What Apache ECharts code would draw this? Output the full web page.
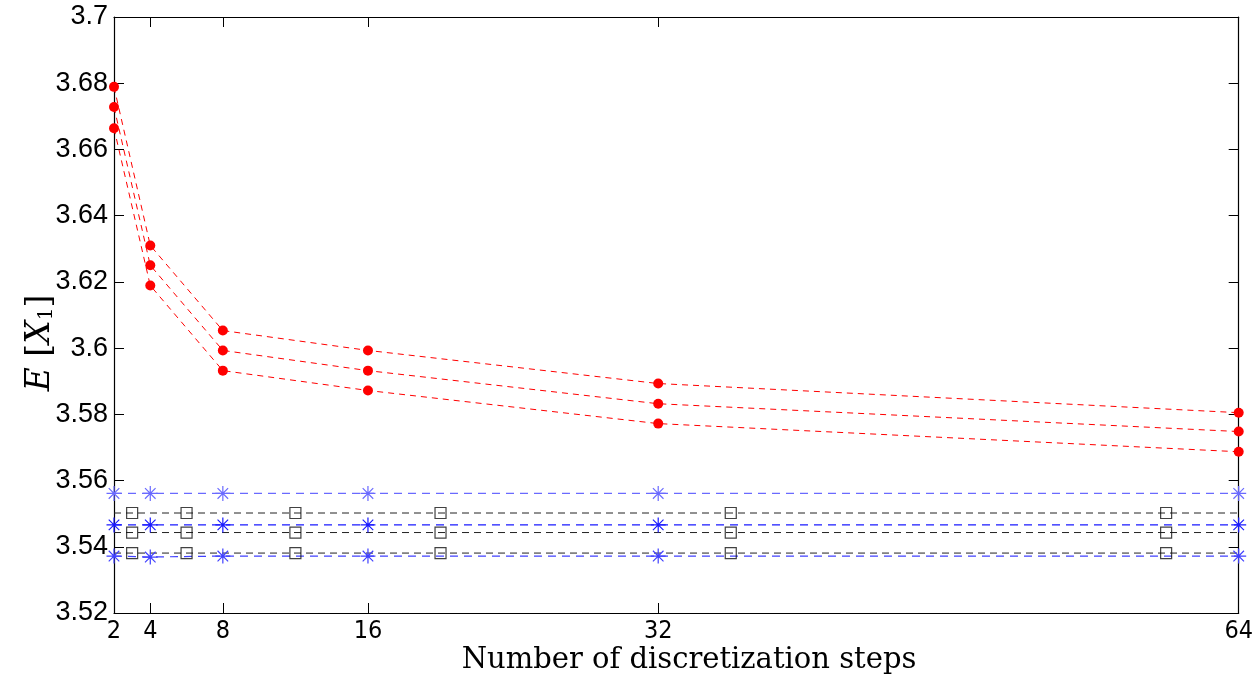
<!DOCTYPE html>
<html>
<head>
<meta charset="utf-8">
<script src="https://cdn.jsdelivr.net/npm/echarts@6/dist/echarts.min.js"></script>
<style>html,body{margin:0;padding:0;background:#fff;}#c{width:1256px;height:681px;}</style>
</head>
<body>
<div id="c"></div>
<script>
// ---- data ----
const xSteps = [2, 4, 8, 16, 32, 64];
const xTickLabels = [2, 4, 8, 16, 32, 64];
const yTicks = [3.52, 3.54, 3.56, 3.58, 3.6, 3.62, 3.64, 3.66, 3.68, 3.7];

const redUpper = [3.6789, 3.6310, 3.6053, 3.5993, 3.5893, 3.5805];
const redMid   = [3.6728, 3.6250, 3.5993, 3.5932, 3.5832, 3.5748];
const redLower = [3.6664, 3.6189, 3.5932, 3.5872, 3.5772, 3.5687];

const blueUpper = [3.5561, 3.5561, 3.5561, 3.5561, 3.5561, 3.5561];
const blueMid   = [3.5466, 3.5466, 3.5466, 3.5466, 3.5466, 3.5466];
const blueLower = [3.5372, 3.5369, 3.5372, 3.5372, 3.5372, 3.5372];

const squareX = [3, 6, 12, 20, 36, 60];
const blackLineX = [2, 64];
const blackUpper = 3.5502;
const blackMid = 3.5443;
const blackLower = 3.5381;

// ---- chart ----
const pair = (xs, ys) => xs.map((x, i) => [x, ys[i]]);
const asterisk = 'path://M9.2 0H10.8V20H9.2Z M0 9.2H20V10.8H0Z M2.4 3.5L3.5 2.4L17.6 16.5L16.5 17.6Z M16.5 2.4L17.6 3.5L3.5 17.6L2.4 16.5Z';

function redSeries(vals) {
  return {
    type: 'line', data: pair(xSteps, vals), symbol: 'circle', symbolSize: 10,
    itemStyle: { color: '#ff0000' },
    lineStyle: { color: '#ff0000', width: 1, type: [6, 5] },
    animation: false, z: 5
  };
}
function blueSeries(vals, col) {
  return {
    type: 'line', data: pair(xSteps, vals), symbol: asterisk, symbolSize: 15,
    itemStyle: { color: col },
    lineStyle: { color: col, width: 1.2, type: [8, 6] },
    animation: false, z: 4
  };
}
function blackLine(v) {
  return {
    type: 'line', data: blackLineX.map(x => [x, v]), showSymbol: false, symbol: 'none',
    lineStyle: { color: '#222', width: 1, type: [7, 5] }, animation: false, z: 3
  };
}
function blackSquares(v) {
  return {
    type: 'scatter', data: squareX.map(x => [x, v]), symbol: 'rect', symbolSize: 11,
    itemStyle: { color: 'rgba(0,0,0,0)', borderColor: '#111', borderWidth: 1.2 },
    animation: false, z: 6
  };
}

const chart = echarts.init(document.getElementById('c'), null, { renderer: 'canvas' });
const axisLineStyle = { lineStyle: { color: '#000', width: 1.2 } };
chart.setOption({
  backgroundColor: '#fff',
  animation: false,
  grid: { left: 114, right: 16, top: 17, bottom: 68 },
  xAxis: [
    {
      type: 'value', min: 2, max: 64, position: 'bottom',
      axisLine: { show: true, onZero: false, ...axisLineStyle },
      axisTick: { show: true, inside: true, length: 10, customValues: xTickLabels, lineStyle: { color: '#000' } },
      axisLabel: { customValues: xTickLabels, color: '#000', fontSize: 25, fontFamily: 'DejaVu Sans Condensed, Liberation Sans Narrow, sans-serif', margin: 6 },
      splitLine: { show: false }
    },
    {
      type: 'value', min: 2, max: 64, position: 'top',
      axisLine: { show: true, onZero: false, ...axisLineStyle },
      axisTick: { show: true, inside: true, length: 10, customValues: xTickLabels, lineStyle: { color: '#000' } },
      axisLabel: { show: false },
      splitLine: { show: false }
    }
  ],
  yAxis: [
    {
      type: 'value', min: 3.52, max: 3.7, interval: 0.02, position: 'left',
      axisLine: { show: true, onZero: false, ...axisLineStyle },
      axisTick: { show: true, inside: true, length: 10, lineStyle: { color: '#000' } },
      axisLabel: { color: '#000', fontSize: 27, fontFamily: 'Liberation Sans, Arial, sans-serif', margin: 6,
        formatter: v => String(+v.toFixed(2)) },
      splitLine: { show: false }
    },
    {
      type: 'value', min: 3.52, max: 3.7, interval: 0.02, position: 'right',
      axisLine: { show: true, onZero: false, ...axisLineStyle },
      axisTick: { show: true, inside: true, length: 10, lineStyle: { color: '#000' } },
      axisLabel: { show: false },
      splitLine: { show: false }
    }
  ],
  series: [
    blackLine(blackUpper), blackLine(blackMid), blackLine(blackLower),
    blackSquares(blackUpper), blackSquares(blackMid), blackSquares(blackLower),
    blueSeries(blueUpper, '#6a6aff'), blueSeries(blueMid, '#1a1aff'), blueSeries(blueLower, '#4040ff'),
    redSeries(redUpper), redSeries(redMid), redSeries(redLower)
  ],
  graphic: [
    {
      type: 'text', x: 689, y: 660,
      style: { text: 'Number of discretization steps', fill: '#000', fontSize: 29, align: 'center', verticalAlign: 'middle',
        fontFamily: 'DejaVu Serif, Liberation Serif, serif' }
    },
    {
      type: 'text', x: 40, y: 343, rotation: Math.PI / 2,
      style: {
        text: '{i|E} [{i|X}{s|1}]', fill: '#000', align: 'center', verticalAlign: 'middle',
        rich: {
          i: { fontSize: 33, fontStyle: 'italic', fontFamily: 'DejaVu Serif, Liberation Serif, serif', fill: '#000' },
          s: { fontSize: 20, fontFamily: 'DejaVu Serif, Liberation Serif, serif', fill: '#000', verticalAlign: 'bottom', padding: [14, 0, 0, 0] }
        },
        fontSize: 33, fontFamily: 'DejaVu Serif, Liberation Serif, serif'
      }
    }
  ]
});
</script>
</body>
</html>
